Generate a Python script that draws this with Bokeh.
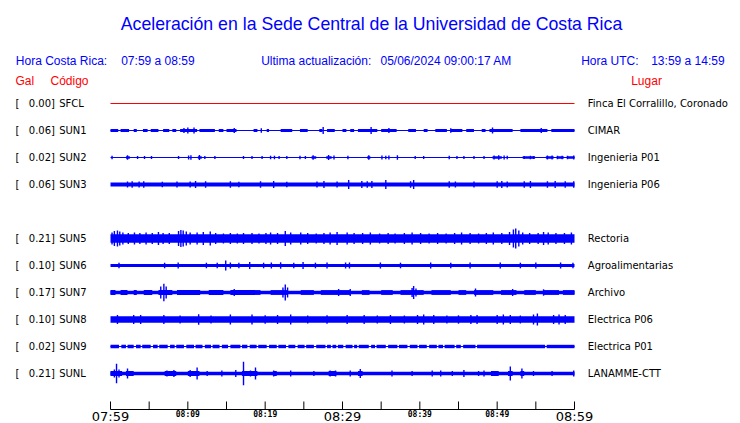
from bokeh.plotting import figure
from bokeh.models import Range1d, ColumnDataSource
from bokeh.core.properties import value
from bokeh.embed import file_html
from bokeh.resources import INLINE

# ------------------------------------------------------------------ data
TITLE = "Aceleración en la Sede Central de la Universidad de Costa Rica"
LOCAL_LABEL = "Hora Costa Rica:"
LOCAL_TIME = "07:59 a 08:59"
UPDATED_LABEL = "Ultima actualización:"
UPDATED = "05/06/2024 09:00:17 AM"
UTC_LABEL = "Hora UTC:"
UTC_TIME = "13:59 a 14:59"

codes = ["SFCL", "SUN1", "SUN2", "SUN3", "SUN5", "SUN6", "SUN7", "SUN8", "SUN9", "SUNL"]
gal = [0.00, 0.06, 0.02, 0.06, 0.21, 0.10, 0.17, 0.10, 0.02, 0.21]
places = ["Finca El Corralillo, Coronado", "CIMAR", "Ingenieria P01", "Ingenieria P06",
          "Rectoria", "Agroalimentarias", "Archivo", "Electrica P06", "Electrica P01",
          "LANAMME-CTT"]

tick_minutes = [0, 10, 20, 30, 40, 50, 60]
tick_labels = ["07:59", "08:09", "08:19", "08:29", "08:39", "08:49", "08:59"]
minor_tick_minutes = [0, 5, 10, 15, 20, 25, 30, 35, 40, 45, 50, 55, 60]
DURATION = 60  # minutes shown

# background trace half-amplitude of every station (plot units)
base_amp = [0.5, 0.6, 0.6, 2.0, 4.3, 1.6, 1.7, 3.3, 0.6, 1.7]

# stretches of stronger noise: (start min, end min, half-amplitude)
sun1_stretches = [(0, 1.0, 1.4), (1.3, 2.4, 1.4), (3.0, 3.4, 1.4), (4.2, 4.8, 1.4), (5.2, 6.2, 1.4),
                  (6.8, 7.6, 1.4), (8.0, 8.5, 1.4), (9.0, 11.2, 1.4), (11.5, 13.5, 1.4),
                  (14.0, 14.6, 1.4), (15.0, 16.3, 1.4), (18.5, 19.0, 1.4), (20.2, 20.5, 1.4),
                  (22.0, 23.5, 1.4), (24.5, 25.5, 1.4), (27.0, 27.4, 1.4), (28.0, 29.0, 1.4),
                  (30.0, 30.5, 1.4), (31.0, 31.5, 1.4), (32.0, 34.5, 1.4), (35.0, 37.0, 1.4),
                  (38.5, 39.5, 1.4), (40.5, 41.0, 1.4), (42.0, 43.5, 1.4), (44.0, 45.5, 1.4),
                  (46.0, 47.0, 1.4), (48.0, 48.5, 1.4), (49.0, 52.0, 1.4), (53.0, 56.5, 1.4),
                  (57.0, 60.0, 1.4)]
sun2_stretches = [(2.0, 2.5, 1.2), (11.3, 11.8, 1.2), (26.0, 26.6, 1.2), (27.9, 28.6, 1.2),
                  (33.2, 33.6, 1.2), (49.4, 50.6, 1.2), (53.3, 54.9, 1.2), (56.3, 57.3, 1.2),
                  (57.7, 58.6, 1.2), (59.0, 60.0, 1.2)]
sun7_stretches = [(0, 0.65, 2.4), (1.3, 2.2, 2.4), (3.0, 3.4, 2.4), (4.3, 5.4, 2.4), (6.2, 8.0, 2.4),
                  (8.6, 11.6, 2.4), (12.7, 14.6, 2.4), (15.5, 19.4, 2.4), (20.7, 22.9, 2.4),
                  (24.6, 26.3, 2.4), (27.2, 31.0, 2.4), (32.5, 33.5, 2.4), (35.0, 36.5, 2.4),
                  (37.5, 40.5, 2.4), (41.5, 44.0, 2.4), (45.0, 46.0, 2.4), (47.0, 49.5, 2.4),
                  (50.5, 52.5, 2.4), (53.5, 55.0, 2.4), (56.0, 58.0, 2.4), (58.5, 60.0, 2.4)]
sunl_stretches = [(0, 1.5, 2.5), (2.0, 3.0, 2.5), (7.0, 8.5, 2.5), (10.0, 11.5, 2.5), (17.0, 19.0, 2.5),
                  (21.0, 21.5, 2.5), (28.2, 29.2, 2.5), (32.0, 32.6, 2.5), (49.2, 50.2, 2.5),
                  (51.4, 52.0, 2.5), (53.0, 53.5, 2.5)]
sun9_level = 1.7
sun9_gaps = [(1.1, 1.4), (2.0, 2.2), (3.0, 3.3), (3.9, 4.1), (5.2, 5.5), (6.1, 6.3), (7.4, 7.7),
             (8.3, 8.5), (9.5, 9.8), (10.8, 11.0), (11.9, 12.2), (13.0, 13.2), (14.1, 14.4),
             (15.2, 15.5), (16.8, 17.0), (17.7, 18.0), (18.9, 19.1), (20.2, 20.5), (21.5, 21.7),
             (22.7, 23.0), (23.9, 24.2), (25.1, 25.3), (26.3, 26.6), (27.8, 28.0), (28.5, 28.7),
             (29.2, 29.4), (30.1, 30.4), (31.3, 31.5), (31.9, 32.1), (33.4, 33.7), (34.2, 34.4),
             (35.6, 35.9), (37.1, 37.3), (38.4, 38.7), (39.7, 39.9), (40.9, 41.2), (42.2, 42.4),
             (43.0, 43.2), (44.5, 44.7), (45.3, 45.6), (47.2, 47.4), (56.2, 56.4)]

# peaks: (minute, half-amplitude)
sun1_peaks = [(9.5, 2.5), (10.0, 3.0), (10.8, 3.0), (16.0, 2.5), (19.5, 2.2), (27.5, 3.5),
              (33.7, 3.5), (36.0, 2.5), (44.0, 2.2), (49.4, 3.0), (55.7, 2.5)]
sun2_peaks = [(0.2, 1.8), (2.2, 2.2), (3.5, 1.6), (4.4, 1.5), (5.3, 1.6), (8.8, 1.5), (10.1, 2.0),
              (10.4, 2.2), (11.5, 2.4), (12.2, 1.6), (13.5, 1.5), (17.2, 1.5), (18.3, 1.5),
              (19.6, 1.6), (20.7, 1.8), (21.2, 1.8), (21.8, 1.6), (22.8, 1.5), (24.5, 1.8),
              (25.2, 1.5), (26.2, 2.3), (28.2, 2.5), (28.9, 2.0), (30.7, 1.8), (33.4, 2.2),
              (35.1, 2.0), (35.6, 1.8), (36.0, 2.0), (37.1, 2.3), (39.4, 1.5), (40.5, 1.5),
              (43.8, 1.8), (44.8, 1.5), (45.7, 1.5), (47.0, 1.5), (48.3, 1.5), (49.6, 2.0),
              (50.2, 2.3), (50.9, 2.0), (51.3, 1.8), (53.5, 1.5), (54.3, 1.8), (54.7, 1.6),
              (56.5, 2.0), (57.1, 2.0), (57.8, 1.8), (58.4, 1.8), (59.1, 1.8), (59.9, 2.0)]
sun3_peaks = [(2.2, 3.0), (2.8, 3.2), (3.7, 3.0), (4.3, 3.2), (6.7, 2.8), (8.6, 3.0), (10.3, 3.0),
              (11.0, 3.5), (12.3, 3.2), (15.5, 3.2), (16.6, 2.8), (19.4, 3.2), (21.1, 3.5),
              (22.8, 2.8), (26.7, 3.0), (27.6, 3.5), (29.3, 3.0), (30.8, 4.5), (32.5, 3.5),
              (33.2, 3.2), (33.8, 3.5), (35.6, 4.5), (38.8, 3.2), (39.2, 4.5), (43.8, 3.2),
              (44.6, 3.0), (47.0, 3.0), (50.0, 3.2), (50.6, 3.5), (51.3, 3.0), (53.5, 3.2),
              (54.3, 3.5), (56.5, 3.2), (57.5, 3.5), (58.8, 3.2), (59.9, 3.2)]
sun5_peaks = [(0.2, 6.0), (0.5, 7.5), (0.9, 8.0), (1.2, 7.0), (1.6, 6.0), (2.3, 5.5), (3.1, 6.0),
              (3.8, 5.5), (4.6, 6.0), (5.4, 5.5), (6.2, 6.5), (6.8, 5.5), (7.6, 5.5), (8.8, 7.5),
              (9.1, 8.5), (9.4, 8.0), (9.8, 7.0), (10.3, 6.0), (11.2, 6.0), (12.0, 6.5), (12.9, 7.0),
              (13.6, 5.5), (14.6, 5.0), (15.5, 5.5), (16.4, 5.0), (17.2, 5.5), (18.3, 5.5),
              (19.2, 5.0), (20.1, 5.5), (20.7, 6.0), (21.6, 5.5), (22.6, 7.5), (23.3, 6.0),
              (24.6, 6.0), (25.5, 5.5), (26.6, 5.0), (27.6, 5.5), (28.4, 6.0), (29.3, 6.5),
              (30.6, 6.0), (31.5, 5.5), (32.6, 5.5), (33.6, 6.0), (34.8, 5.0), (35.9, 5.5),
              (36.8, 5.0), (38.0, 5.5), (39.0, 6.0), (40.1, 5.5), (41.2, 5.0), (42.3, 5.5),
              (43.4, 5.0), (44.5, 5.5), (45.4, 6.0), (46.5, 5.5), (47.6, 5.0), (48.6, 5.5),
              (49.5, 6.0), (50.6, 5.5), (51.6, 6.5), (52.1, 9.0), (52.4, 10.0), (52.8, 8.0),
              (53.3, 6.0), (54.2, 5.5), (55.3, 5.5), (56.0, 6.5), (56.6, 6.0), (57.6, 5.5),
              (58.7, 5.5), (59.6, 6.0)]
sun6_peaks = [(1.1, 2.8), (7.0, 2.8), (8.75, 3.0), (12.4, 2.8), (13.8, 2.8), (14.9, 5.0), (15.5, 3.0),
              (16.6, 2.8), (18.0, 3.5), (19.8, 2.8), (20.8, 3.0), (22.0, 3.2), (23.7, 2.8),
              (24.9, 3.5), (26.5, 2.8), (28.0, 3.0), (30.4, 3.0), (30.9, 3.0), (34.9, 3.0),
              (37.5, 2.8), (41.4, 3.0), (44.0, 2.8), (46.5, 3.0), (50.4, 3.0), (53.0, 2.8),
              (55.0, 3.0), (58.2, 3.0), (59.8, 2.8)]
sun7_peaks = [(6.5, 6.0), (6.9, 8.8), (7.2, 6.0), (16.0, 3.5), (22.3, 5.0), (22.6, 8.0), (22.9, 5.0),
              (29.5, 3.5), (31.0, 3.5), (39.0, 4.5), (39.2, 6.5), (39.5, 4.0), (47.2, 4.0),
              (52.0, 3.5), (56.0, 3.2)]
sun8_peaks = [(0.9, 4.5), (3.0, 4.5), (3.9, 4.5), (6.9, 4.5), (9.0, 4.0), (11.4, 5.2), (13.0, 4.0),
              (15.5, 5.0), (18.3, 5.0), (20.0, 4.2), (21.6, 4.5), (23.3, 5.0), (25.5, 4.0),
              (28.0, 4.2), (30.6, 4.5), (32.8, 4.5), (34.5, 4.0), (36.2, 4.5), (38.0, 4.0),
              (39.7, 4.5), (40.5, 5.0), (41.8, 4.5), (43.5, 4.0), (45.0, 4.2), (46.6, 4.5),
              (47.4, 4.5), (50.0, 4.5), (50.8, 5.0), (51.7, 4.5), (53.0, 4.0), (54.7, 5.0),
              (55.2, 6.0), (57.3, 4.5), (58.0, 5.0), (58.8, 4.5)]
sunl_peaks = [(0.5, 4.0), (0.78, 9.8), (1.1, 4.0), (2.2, 5.0), (7.3, 3.0), (8.2, 3.5), (10.3, 3.5),
              (11.2, 6.0), (12.5, 2.5), (14.4, 3.0), (16.2, 3.5), (17.2, 11.7), (18.1, 3.0),
              (18.75, 6.0), (21.1, 3.0), (23.3, 3.0), (26.3, 2.5), (28.4, 3.0), (29.1, 3.0),
              (31.0, 3.0), (32.3, 4.5), (36.4, 3.0), (39.0, 2.5), (41.6, 3.0), (42.7, 3.0),
              (44.2, 2.5), (45.7, 3.5), (47.6, 2.5), (48.3, 3.0), (49.4, 2.5), (50.0, 2.5),
              (51.7, 7.0), (53.2, 5.0), (54.7, 2.5), (57.1, 2.5), (59.9, 3.0)]

# ------------------------------------------------------------------ layout / style
W, H = 740, 423
X0, X1 = 110, 574          # canvas px of first / last minute
ROW0, ROW_STEP = 103, 27   # canvas px of first trace, trace spacing
row_slots = [0, 1, 2, 3, 5, 6, 7, 8, 9, 10]
AXIS_Y, TICK_LEN = 409, 8
BLUE, RED, BLACK = "#0000ff", "#ff0000", "#000000"
SANS = value("Liberation Sans")
DJV = value("DejaVu Sans")

p = figure(width=W, height=H, output_backend="svg", toolbar_location=None,
           x_range=Range1d(0, W), y_range=Range1d(H, 0), min_border=0,
           x_axis_location=None, y_axis_location=None, outline_line_color=None,
           background_fill_color="white", border_fill_color="white")
p.grid.visible = False

ppm = (X1 - X0) / DURATION
p.extra_x_ranges = {"t": Range1d(-X0 / ppm, (W - X0) / ppm)}

centers = [ROW0 + ROW_STEP * s for s in row_slots]
colors = [RED if g == 0 else BLUE for g in gal]

# background band of each trace
p.quad(left=[0] * len(codes), right=[DURATION] * len(codes),
       bottom=[c + a for c, a in zip(centers, base_amp)],
       top=[c - a for c, a in zip(centers, base_amp)],
       fill_color=colors, line_color=None, x_range_name="t")

stretches = {"SUN1": sun1_stretches, "SUN2": sun2_stretches, "SUN7": sun7_stretches,
             "SUNL": sunl_stretches}
# SUN9: level band interrupted by gaps
s9 = []
start = 0
for g0, g1 in sun9_gaps:
    s9.append((start, g0, sun9_level))
    start = g1
s9.append((start, DURATION, sun9_level))
stretches["SUN9"] = s9

L, R, B, T = [], [], [], []
for code, segs in stretches.items():
    c = centers[codes.index(code)]
    for a, b, h in segs:
        L.append(a); R.append(b); B.append(c + h); T.append(c - h)
p.quad(left=L, right=R, bottom=B, top=T, fill_color=BLUE, line_color=None, x_range_name="t")

peaks = {"SUN1": sun1_peaks, "SUN2": sun2_peaks, "SUN3": sun3_peaks, "SUN5": sun5_peaks,
         "SUN6": sun6_peaks, "SUN7": sun7_peaks, "SUN8": sun8_peaks, "SUNL": sunl_peaks}
px, py0, py1 = [], [], []
for code, pk in peaks.items():
    c = centers[codes.index(code)]
    for t, a in pk:
        px.append(t); py0.append(c - a); py1.append(c + a)
p.segment(x0=px, x1=px, y0=py0, y1=py1, line_color=BLUE, line_width=1.4, x_range_name="t")

# time axis
p.segment(x0=[0], x1=[DURATION], y0=[AXIS_Y], y1=[AXIS_Y], line_color=BLACK, line_width=1,
          x_range_name="t")
p.segment(x0=minor_tick_minutes, x1=minor_tick_minutes,
          y0=[AXIS_Y - TICK_LEN] * len(minor_tick_minutes), y1=[AXIS_Y] * len(minor_tick_minutes),
          line_color=BLACK, line_width=1, x_range_name="t")
big = [i for i, m in enumerate(tick_minutes) if m % 30 == 0]
small = [i for i, m in enumerate(tick_minutes) if m % 30 != 0]
p.text(x=[tick_minutes[i] for i in big], y=[AXIS_Y + 7.3] * len(big),
       text=[tick_labels[i] for i in big], text_align="center", text_baseline="middle",
       text_font=DJV, text_font_size="13px", text_color=BLACK, x_range_name="t")
p.text(x=[tick_minutes[i] for i in small], y=[AXIS_Y + 5.3] * len(small),
       text=[tick_labels[i] for i in small], text_align="center", text_baseline="middle",
       text_font=value("DejaVu Sans Mono"), text_font_style="bold", text_font_size="8px",
       text_color=BLACK, x_range_name="t")

# titles and headers
p.text(x=[371], y=[23.3], text=[TITLE], text_align="center", text_baseline="middle",
       text_font=SANS, text_font_size="17.7px", text_color=BLUE)
p.text(x=[15.3, 120.7, 260.7, 380, 580.7, 650.7], y=[60.3] * 6,
       text=[LOCAL_LABEL, LOCAL_TIME, UPDATED_LABEL, UPDATED, UTC_LABEL, UTC_TIME],
       text_baseline="middle", text_font=SANS, text_font_size="12px", text_color=BLUE)
p.text(x=[15, 50, 630.7], y=[80.3] * 3, text=["Gal", "Código", "Lugar"],
       text_baseline="middle", text_font=SANS, text_font_size="12px", text_color=RED)

# station labels
n = len(codes)
lab = ColumnDataSource(dict(y=centers, br=["["] * n, val=[f"{g:.2f}]" for g in gal],
                            code=codes, place=places))
common = dict(text_baseline="middle", text_font=DJV, text_font_size="10px", text_color=BLACK,
              source=lab)
p.text(x=15, y="y", text="br", **common)
p.text(x=54.5, y="y", text="val", text_align="right", **common)
p.text(x=58.7, y="y", text="code", **common)
p.text(x=587.3, y="y", text="place", **common)

open("out.html", "w").write(file_html(p, INLINE))
